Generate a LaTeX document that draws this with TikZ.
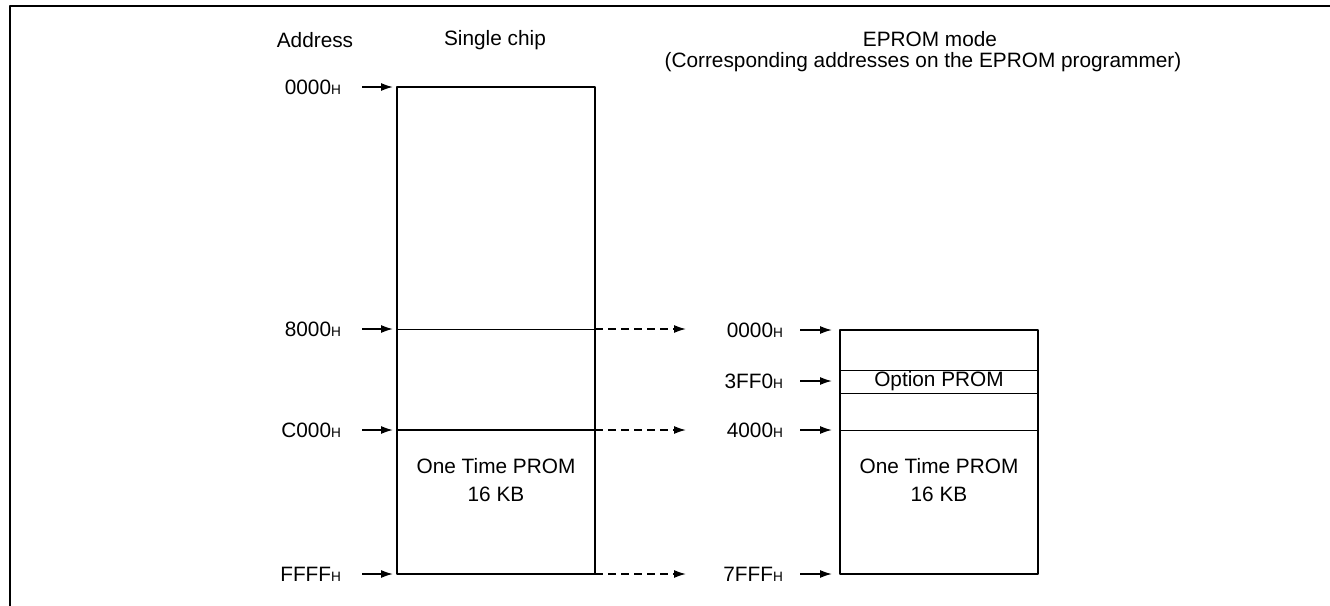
\documentclass[tikz,border=0pt]{standalone}
\usepackage{fontspec}
\setmainfont{Liberation Sans}
\usetikzlibrary{arrows.meta}
\newcommand{\hexa}[1]{#1{\fontsize{6.8}{7}\selectfont H}}
\begin{document}
\begin{tikzpicture}[x=0.5pt,y=-0.5pt, font=\fontsize{10.4}{12}\selectfont, line join=round, >={Latex[length=6pt,width=4pt]}]
	\def\lxa{397} \def\lxb{595} % single chip box
	\def\rxa{840} \def\rxb{1038} % EPROM box
	\tikzset{memory/.style={line width=1pt}, addr/.style={->,line width=0.75pt}, map/.style={->,line width=0.75pt,dash pattern=on 4pt off 2.5pt}}
	\useasboundingbox (0,0) rectangle (1330,606);
	\draw[line width=0.65pt] (1330,6)--(10,6)--(10,606);
	\node (address) at (315,40) {Address};
	\node (single) at (495,40) {Single chip};
	\node (eprom) at (930,39) {EPROM mode};
	\node (prog) at (923,62) {(Corresponding addresses on the EPROM programmer)};
	% single chip
	\draw[line width=0.5pt] (\lxa,329)--(\lxb,329);
	\draw[line width=0.75pt] (\lxa,430)--(\lxb,430);
	\draw[memory] (\lxa,87) rectangle (\lxb,574);
	\node[align=center,font=\fontsize{10.4}{14}\selectfont] (otpl) at (496,480) {One Time PROM\\16 KB};
	\foreach \y/\lab/\nm in {87/0000/la, 329/8000/lb, 430/C000/lc, 574/FFFF/ld}{
		\node[anchor=east] (\nm) at (348,\y) {\hexa{\lab}};
		\coordinate (\nm t) at (393,\y);
		\draw[addr] ([xshift=7pt]\nm.east)--(\nm t);
	}
	% EPROM mode
	\draw[line width=0.5pt] (\rxa,370)--(\rxb,370);
	\draw[line width=0.5pt] (\rxa,393)--(\rxb,393);
	\draw[line width=0.5pt] (\rxa,430)--(\rxb,430);
	\draw[memory] (\rxa,330) rectangle (\rxb,574);
	\node (opt) at (939,381) {Option PROM};
	\node[align=center,font=\fontsize{10.4}{14}\selectfont] (otpr) at (939,480) {One Time PROM\\16 KB};
	\foreach \y/\lab/\nm in {330/0000/ra, 381/3FF0/rb, 430/4000/rc, 574/7FFF/rd}{
		\node[anchor=east] (\nm) at (790,\y) {\hexa{\lab}};
		\coordinate (\nm t) at (832,\y);
		\draw[addr] ([xshift=5pt]\nm.east)--(\nm t);
	}
	% mapping
	\foreach \y/\nm in {329/ma, 430/mb, 574/mc}{
		\coordinate (\nm s) at (\lxb,\y);
		\coordinate (\nm e) at (686,\y);
		\draw[map] (\nm s)--(\nm e);
	}
\end{tikzpicture}
\end{document}
